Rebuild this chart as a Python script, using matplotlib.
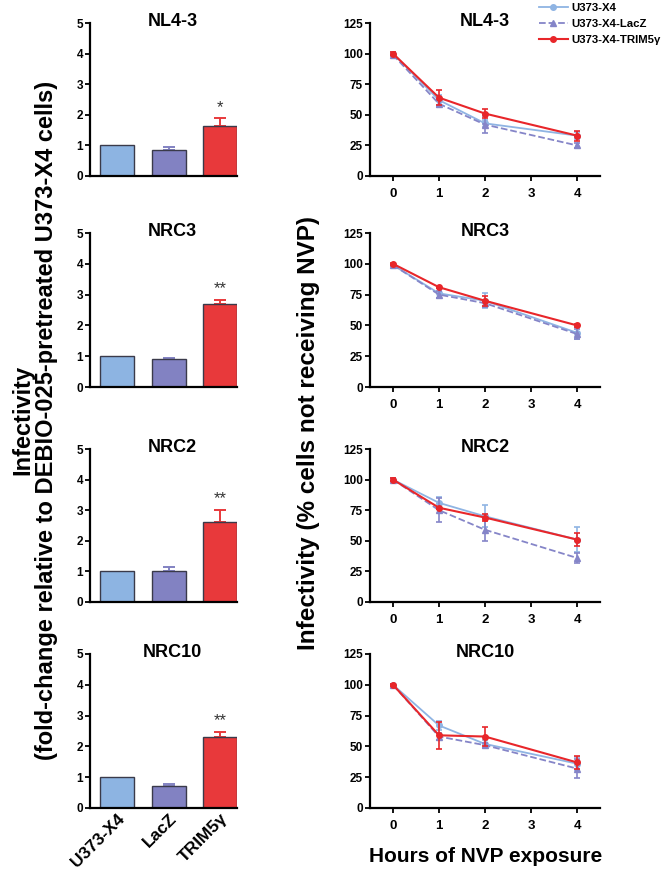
import numpy as np
import matplotlib
matplotlib.use('Agg')
import matplotlib.pyplot as plt

plt.rcParams['font.family'] = ['Liberation Sans', 'DejaVu Sans']
plt.rcParams['font.weight'] = 'bold'

# bar panels (fold-change)
bar_labels = ['U373-X4', 'LacZ', 'TRIM5\u03b3']
panel_titles = ['NL4-3', 'NRC3', 'NRC2', 'NRC10']
bar_means = [[1.0, 0.85, 1.62],
             [1.0, 0.91, 2.71],
             [1.0, 1.01, 2.60],
             [1.0, 0.73, 2.32]]
bar_errs = [[0.0, 0.10, 0.26],
            [0.0, 0.03, 0.11],
            [0.0, 0.12, 0.40],
            [0.0, 0.04, 0.15]]
bar_stars = ['*', '**', '**', '**']

# line panels (% cells not receiving NVP)
hours = [0, 1, 2, 4]
series_names = ['U373-X4', 'U373-X4-LacZ', 'U373-X4-TRIM5\u03b3']
x4_vals = [[100, 62, 43, 33], [99, 76, 70, 44], [100, 81, 70, 51], [100, 67, 52, 36]]
x4_errs = [[1, 4, 3, 3], [1, 4, 6, 5], [1, 5, 9, 10], [1, 4, 3, 5]]
lacz_vals = [[99, 59, 42, 25], [99, 75, 68, 43], [100, 75, 59, 36], [100, 58, 51, 32]]
lacz_errs = [[1, 3, 7, 2], [1, 3, 3, 4], [1, 10, 9, 4], [1, 3, 2, 8]]
trim_vals = [[100, 64, 51, 33], [100, 81, 70, 50], [100, 77, 69, 51], [100, 59, 58, 37]]
trim_errs = [[1, 6, 4, 4], [1, 1, 4, 1], [1, 1, 3, 5], [1, 11, 8, 5]]

bar_colors = ['#8db4e2', '#8282c2', '#e8393b']
line_colors = ['#8fb4e3', '#8585c8', '#e8262a']

W, H = 667, 874
fig = plt.figure(figsize=(W / 100, H / 100), dpi=100)

rows = [(23, 176), (233, 387), (449, 602), (654, 808)]


def rect(x0, x1, y0, y1):
    return [x0 / W, 1 - y1 / H, (x1 - x0) / W, (y1 - y0) / H]


def style_axes(ax):
    for s in ['top', 'right']:
        ax.spines[s].set_visible(False)
    for s in ['left', 'bottom']:
        ax.spines[s].set_linewidth(1.6)
    ax.tick_params(width=1.3, length=3.5, labelsize=8.5, pad=1.5)
    for tl in ax.get_xticklabels() + ax.get_yticklabels():
        tl.set_fontweight('bold')


line_handles = None
for i in range(4):
    y0, y1 = rows[i]

    # bar chart
    ax = fig.add_axes(rect(90, 237, y0, y1))
    xs = np.arange(3)
    ax.bar(xs, bar_means[i], width=0.66, color=bar_colors,
           edgecolor='#3a3a4a', linewidth=1.0, zorder=2)
    for j in range(1, 3):
        ax.errorbar(xs[j], bar_means[i][j], yerr=[[0], [bar_errs[i][j]]],
                    color=bar_colors[j], capsize=4.5, elinewidth=1.4,
                    capthick=1.4, zorder=1)
    top = bar_means[i][2] + bar_errs[i][2]
    ax.text(2, top + 0.12, bar_stars[i], ha='center', va='bottom',
            fontsize=12, color='#333333', fontweight='normal')
    ax.set_xlim(-0.53, 2.33)
    ax.set_ylim(0, 5)
    ax.set_yticks(range(6))
    style_axes(ax)
    if i == 3:
        ax.set_xticks(xs)
        ax.set_xticklabels(bar_labels, rotation=45, ha='right',
                           rotation_mode='anchor', fontsize=12.5, fontweight='bold')
        ax.tick_params(axis='x', length=0, pad=2)
    else:
        ax.set_xticks([])
    ax.text(0.56, 1 - 3 / 154, panel_titles[i], transform=ax.transAxes,
            ha='center', va='baseline', fontsize=13, fontweight='bold')

    # line chart
    ax2 = fig.add_axes(rect(370, 600, y0, y1))
    data = [(x4_vals[i], x4_errs[i], 'o', '-'),
            (lacz_vals[i], lacz_errs[i], '^', '--'),
            (trim_vals[i], trim_errs[i], 'o', '-')]
    handles = []
    for k, (vals, errs, mk, ls) in enumerate(data):
        eb = ax2.errorbar(hours, vals, yerr=errs, color=line_colors[k],
                          marker=mk, markersize=4 if mk == 'o' else 4.5,
                          linestyle=ls, linewidth=1.3 if k < 2 else 1.5,
                          capsize=2.5, elinewidth=1.2, capthick=1.2,
                          label=series_names[k], zorder=2 + k)
        handles.append(eb)
    if line_handles is None:
        line_handles = handles
    ax2.set_xlim(-0.5, 4.5)
    ax2.set_ylim(0, 125)
    ax2.set_xticks(range(5))
    ax2.set_yticks(range(0, 126, 25))
    style_axes(ax2)
    ax2.tick_params(axis='x', pad=5, labelsize=9.5)
    ax2.text(0.5, 1 - 3 / 154, panel_titles[i], transform=ax2.transAxes,
             ha='center', va='baseline', fontsize=13, fontweight='bold')

fig.legend(handles=[h[0] for h in line_handles], labels=series_names,
           loc='upper left', bbox_to_anchor=(534 / W, 1 + 2 / H),
           frameon=False, fontsize=8.2, handlelength=2.6, handletextpad=0.3,
           labelspacing=0.55, borderaxespad=0)

fig.text(35 / W, 1 - 420 / H,
         'Infectivity\n(fold-change relative to DEBIO-025-pretreated U373-X4 cells)',
         rotation=90, ha='center', va='center', fontsize=17, fontweight='bold',
         linespacing=1.05)
fig.text(309 / W, 1 - 433 / H, 'Infectivity (% cells not receiving NVP)',
         rotation=90, ha='center', va='center', fontsize=17.5, fontweight='bold')
fig.text(486 / W, 1 - 857 / H, 'Hours of NVP exposure', ha='center',
         va='center', fontsize=15, fontweight='bold')

fig.savefig('out.png', dpi=100)
